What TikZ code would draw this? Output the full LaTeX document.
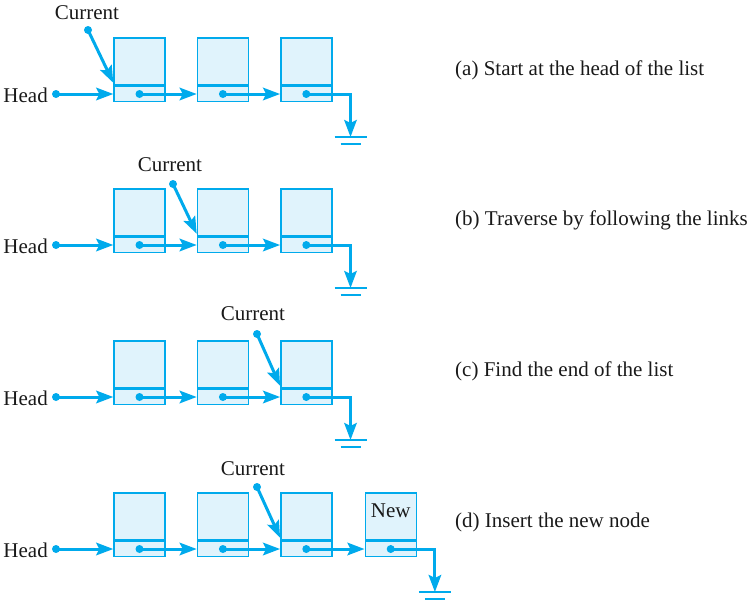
\documentclass[tikz,border=0pt]{standalone}
\usepackage{fontspec}
\setmainfont{Liberation Serif}
\usetikzlibrary{positioning,arrows.meta}
\definecolor{linkblue}{RGB}{0,170,236}
\definecolor{cellfill}{RGB}{224,243,252}
\tikzset{
  cell/.style={rectangle,draw=linkblue,fill=cellfill,line width=1.4pt,minimum width=51pt,minimum height=47pt,inner sep=0pt},
  linkcell/.style={rectangle,draw=linkblue,fill=cellfill,line width=1.4pt,minimum width=51pt,minimum height=15pt,inner sep=0pt},
  ptdot/.style={circle,fill=linkblue,minimum size=8pt,inner sep=0pt},
  link/.style={line width=3pt,color=linkblue,-{Stealth[length=17pt,width=12.5pt,inset=3pt]}},
  wire/.style={line width=3pt,color=linkblue},
  gnd/.style={line width=2.3pt,color=linkblue},
  lbl/.style={font=\fontsize{21}{25}\selectfont,text=black!90,inner sep=0pt},
}
\begin{document}
\begin{tikzpicture}[x=1pt,y=-1pt]
\useasboundingbox (0,0) rectangle (752,600);

% (a) start at the head
\node (a1l) [linkcell] at (139.5,94) {};
\node (a1) [cell, above=0pt of a1l] {};
\node (a2l) [linkcell, right=31pt of a1l] {};
\node (a2) [cell, above=0pt of a2l] {};
\node (a3l) [linkcell, right=31pt of a2l] {};
\node (a3) [cell, above=0pt of a3l] {};
\node (ha) [lbl,anchor=east] at (48,95) {Head};
\node (hda) [ptdot] at (56,94) {};
\node (cla) [lbl] at (87,13) {Current};
\node (ca) [ptdot] at (88,30) {};
\node (p1a) [ptdot] at (a1l.center) {};
\node (p2a) [ptdot] at (a2l.center) {};
\node (p3a) [ptdot] at (a3l.center) {};
\coordinate (ga) at ([xshift=18pt,yshift=-43pt]a3l.east);
\draw[link] (hda.center) -- (a1l.west);
\draw[link] (ca.center) -- ([yshift=3pt]a1.south west);
\draw[link] (p1a.center) -- (a2l.west);
\draw[link] (p2a.center) -- (a3l.west);
\draw[wire] (p3a.center) -| ([yshift=12pt]ga);
\draw[link] ([yshift=14pt]ga) -- (ga);
\draw[gnd] ([xshift=-16pt]ga) -- ([xshift=16pt]ga);
\draw[gnd] ([xshift=-10pt,yshift=-7pt]ga) -- ([xshift=10pt,yshift=-7pt]ga);
\node (capa) [lbl,anchor=west] at (455,70) {(a) Start at the head of the list};

% (b) traverse
\node (b1l) [linkcell] at (139.5,245) {};
\node (b1) [cell, above=0pt of b1l] {};
\node (b2l) [linkcell, right=31pt of b1l] {};
\node (b2) [cell, above=0pt of b2l] {};
\node (b3l) [linkcell, right=31pt of b2l] {};
\node (b3) [cell, above=0pt of b3l] {};
\node (hb) [lbl,anchor=east] at (48,246) {Head};
\node (hdb) [ptdot] at (56,245) {};
\node (clb) [lbl] at (170,165) {Current};
\node (cb) [ptdot] at (173,184) {};
\node (p1b) [ptdot] at (b1l.center) {};
\node (p2b) [ptdot] at (b2l.center) {};
\node (p3b) [ptdot] at (b3l.center) {};
\coordinate (gb) at ([xshift=18pt,yshift=-43pt]b3l.east);
\draw[link] (hdb.center) -- (b1l.west);
\draw[link] (cb.center) -- ([yshift=3pt]b2.south west);
\draw[link] (p1b.center) -- (b2l.west);
\draw[link] (p2b.center) -- (b3l.west);
\draw[wire] (p3b.center) -| ([yshift=12pt]gb);
\draw[link] ([yshift=14pt]gb) -- (gb);
\draw[gnd] ([xshift=-16pt]gb) -- ([xshift=16pt]gb);
\draw[gnd] ([xshift=-10pt,yshift=-7pt]gb) -- ([xshift=10pt,yshift=-7pt]gb);
\node (capb) [lbl,anchor=west] at (455,220) {(b) Traverse by following the links};

% (c) end of the list
\node (c1l) [linkcell] at (139.5,397) {};
\node (c1) [cell, above=0pt of c1l] {};
\node (c2l) [linkcell, right=31pt of c1l] {};
\node (c2) [cell, above=0pt of c2l] {};
\node (c3l) [linkcell, right=31pt of c2l] {};
\node (c3) [cell, above=0pt of c3l] {};
\node (hc) [lbl,anchor=east] at (48,398) {Head};
\node (hdc) [ptdot] at (56,397) {};
\node (clc) [lbl] at (253,314) {Current};
\node (cc) [ptdot] at (257,334) {};
\node (p1c) [ptdot] at (c1l.center) {};
\node (p2c) [ptdot] at (c2l.center) {};
\node (p3c) [ptdot] at (c3l.center) {};
\coordinate (gc) at ([xshift=18pt,yshift=-43pt]c3l.east);
\draw[link] (hdc.center) -- (c1l.west);
\draw[link] (cc.center) -- ([yshift=3pt]c3.south west);
\draw[link] (p1c.center) -- (c2l.west);
\draw[link] (p2c.center) -- (c3l.west);
\draw[wire] (p3c.center) -| ([yshift=12pt]gc);
\draw[link] ([yshift=14pt]gc) -- (gc);
\draw[gnd] ([xshift=-16pt]gc) -- ([xshift=16pt]gc);
\draw[gnd] ([xshift=-10pt,yshift=-7pt]gc) -- ([xshift=10pt,yshift=-7pt]gc);
\node (capc) [lbl,anchor=west] at (455,371) {(c) Find the end of the list};

% (d) insert the new node
\node (d1l) [linkcell] at (139.5,549) {};
\node (d1) [cell, above=0pt of d1l] {};
\node (d2l) [linkcell, right=31pt of d1l] {};
\node (d2) [cell, above=0pt of d2l] {};
\node (d3l) [linkcell, right=31pt of d2l] {};
\node (d3) [cell, above=0pt of d3l] {};
\node (d4l) [linkcell, right=32pt of d3l] {};
\node (d4) [cell, above=0pt of d4l] {};
\node (nw) [lbl] at ([yshift=-18pt]d4.north) {New};
\node (hd) [lbl,anchor=east] at (48,550) {Head};
\node (hdd) [ptdot] at (56,549) {};
\node (cld) [lbl] at (253,469) {Current};
\node (cd) [ptdot] at (257,487) {};
\node (p1d) [ptdot] at (d1l.center) {};
\node (p2d) [ptdot] at (d2l.center) {};
\node (p3d) [ptdot] at (d3l.center) {};
\node (p4d) [ptdot] at (d4l.center) {};
\coordinate (gd) at ([xshift=18pt,yshift=-43pt]d4l.east);
\draw[link] (hdd.center) -- (d1l.west);
\draw[link] (cd.center) -- ([yshift=3pt]d3.south west);
\draw[link] (p1d.center) -- (d2l.west);
\draw[link] (p2d.center) -- (d3l.west);
\draw[link] (p3d.center) -- (d4l.west);
\draw[wire] (p4d.center) -| ([yshift=12pt]gd);
\draw[link] ([yshift=14pt]gd) -- (gd);
\draw[gnd] ([xshift=-16pt]gd) -- ([xshift=16pt]gd);
\draw[gnd] ([xshift=-10pt,yshift=-7pt]gd) -- ([xshift=10pt,yshift=-7pt]gd);
\node (capd) [lbl,anchor=west] at (455,522) {(d) Insert the new node};
\end{tikzpicture}
\end{document}
